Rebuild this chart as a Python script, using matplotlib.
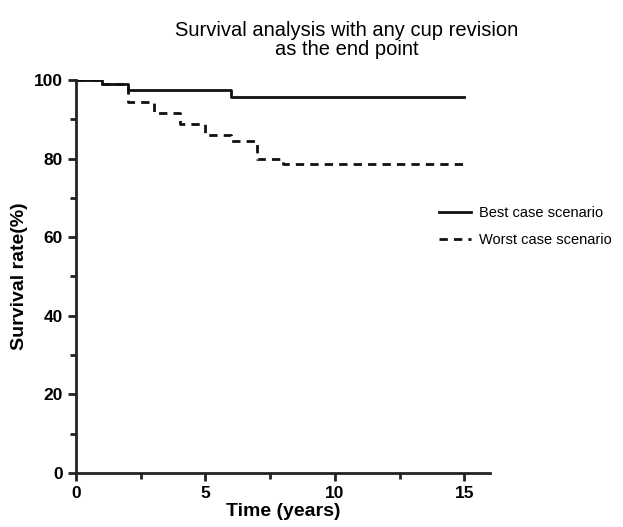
import numpy as np
import matplotlib
matplotlib.use('Agg')
import matplotlib.pyplot as plt
from matplotlib.ticker import MultipleLocator

plt.rcParams['font.family'] = ['Liberation Sans', 'DejaVu Sans']

# Step survival curves (time in years, survival %)
best_t = [0, 1, 2, 6, 15]
best_s = [100, 99.0, 97.5, 95.6, 95.6]

worst_t = [0, 1, 2, 3, 4, 5, 6, 7, 8, 15]
worst_s = [100, 99.0, 94.5, 91.7, 88.8, 86.0, 84.5, 79.9, 78.6, 78.6]

fig = plt.figure(figsize=(6.23, 5.27), dpi=100)
ax = fig.add_axes([0.122, 0.1025, 0.665, 0.7457])

ax.step(best_t, best_s, where='post', color='#111111', lw=2, label='Best case scenario')
ax.step(worst_t, worst_s, where='post', color='#111111', lw=2, linestyle=(0, (3, 2.2)),
        label='Worst case scenario')

ax.set_xlim(0, 16)
ax.set_ylim(0, 100)
ax.xaxis.set_major_locator(MultipleLocator(5))
ax.xaxis.set_minor_locator(MultipleLocator(2.5))
ax.yaxis.set_major_locator(MultipleLocator(20))
ax.yaxis.set_minor_locator(MultipleLocator(10))
for s in ['top', 'right']:
    ax.spines[s].set_visible(False)
for s in ['left', 'bottom']:
    ax.spines[s].set_linewidth(2)
    ax.spines[s].set_color('#222222')
ax.tick_params(which='major', length=6, width=2, direction='out', labelsize=12.5, color='#222222')
ax.tick_params(which='minor', length=4, width=2, direction='out', color='#222222')
for lab in ax.get_xticklabels() + ax.get_yticklabels():
    lab.set_fontweight('bold')

ax.set_xlabel('Time (years)', fontsize=14, fontweight='bold', labelpad=1)
ax.set_ylabel('Survival rate(%)', fontsize=14, fontweight='bold', labelpad=4)

fig.text(0.557, 0.925, 'Survival analysis with any cup revision\nas the end point',
         ha='center', va='center', fontsize=14.5, linespacing=1.0)

ax.legend(loc='center left', bbox_to_anchor=(0.875, 0.628), frameon=False, fontsize=10.5,
          handlelength=2.2, handletextpad=0.6, labelspacing=0.9, borderaxespad=0,
          borderpad=0)

plt.savefig('out.png', dpi=100)
